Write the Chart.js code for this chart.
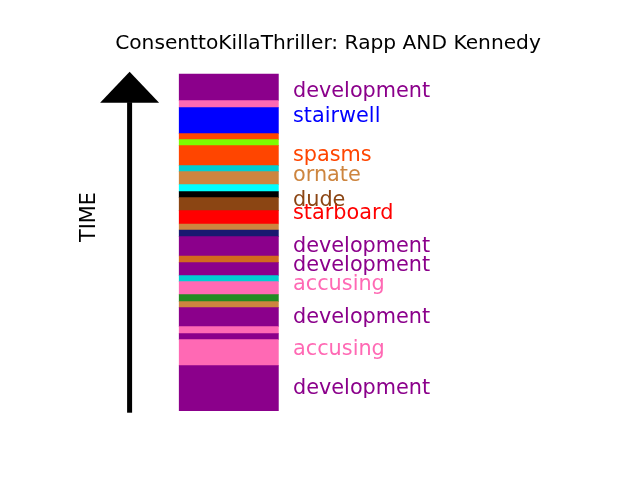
<!DOCTYPE html>
<html><head><meta charset="utf-8">
<script src="https://cdn.jsdelivr.net/npm/chart.js@4/dist/chart.umd.min.js"></script>
<style>html,body{margin:0;padding:0;background:#fff}</style>
</head><body>
<canvas id="c" width="640" height="480"></canvas>
<script>
const titleText = 'ConsenttoKillaThriller: Rapp AND Kennedy';
const axisLabel = 'TIME';
const categories = ['arrow', 'timeline', 'labels', '', ''];
// colour segments, bottom -> top, durations in time units
const segColors = ['#8B008B','#FF69B4','#8B008B','#FF69B4','#8B008B','#CD853F','#228B22','#FF69B4','#00CED1','#8B008B','#D2691E','#8B008B','#191970','#CD853F','#FF0000','#8B4513','#000000','#00FFFF','#CD853F','#00CED1','#FF4500','#7CFC00','#FF4500','#0000FF','#FF69B4','#8B008B'];
const segDurations = [45,26,6,7,19,6,7,13,6,13,6.7,19.3,6.7,6,13.3,13,6,7,13,6,20,6,6,26,7,26.7];
// labels, bottom -> top (baseline position in time units)
const labelWords = ['development','accusing','development','accusing','development','development','starboard','dude','ornate','spasms','stairwell','development'];
const labelColors = ['#8B008B','#FF69B4','#8B008B','#FF69B4','#8B008B','#8B008B','#FF0000','#8B4513','#CD853F','#FF4500','#0000FF','#8B008B'];
const labelTimes = [16.7,55.4,88,120.4,139.7,158.7,191.4,204.7,229.4,249.7,288.7,314];
// arrow: shaft start, head base, tip (time units)
const arrowTimes = [-2, 308, 339];
const axisLabelTime = 193.6;

const datasets = segColors.map((col, i) => ({
  data: [null, segDurations[i], null, null, null], backgroundColor: col, stack: 's', borderWidth: 0
}));

const decor = {
  id: 'decor',
  afterDraw(chart) {
    const ctx = chart.ctx, xs = chart.scales.x, ys = chart.scales.y, ca = chart.chartArea;
    const bar = chart.getDatasetMeta(0).data[1];
    ctx.save();
    // arrow
    const ax = xs.getPixelForValue(0);
    const y0 = ys.getPixelForValue(arrowTimes[0]);
    const y1 = ys.getPixelForValue(arrowTimes[1]);
    const y2 = ys.getPixelForValue(arrowTimes[2]);
    ctx.fillStyle = '#000';
    ctx.fillRect(ax - 2.5, y1 - 0.5, 5, y0 - y1 + 0.5);
    ctx.beginPath();
    ctx.moveTo(ax - 29.5, y1);
    ctx.lineTo(ax + 29.5, y1);
    ctx.lineTo(ax, y2);
    ctx.closePath();
    ctx.fill();
    // labels
    ctx.font = "20.8px 'DejaVu Sans'";
    ctx.textAlign = 'left';
    ctx.textBaseline = 'alphabetic';
    const lx = bar.x + bar.width / 2 + 14.6;
    labelWords.forEach((w, i) => {
      ctx.fillStyle = labelColors[i];
      ctx.fillText(w, lx, ys.getPixelForValue(labelTimes[i]));
    });
    // TIME
    ctx.save();
    ctx.translate(ax - 34.5, ys.getPixelForValue(axisLabelTime));
    ctx.rotate(-Math.PI / 2);
    ctx.fillStyle = '#000';
    ctx.textAlign = 'center';
    ctx.fillText(axisLabel, 0, 0);
    ctx.restore();
    // title
    ctx.font = "20.2px 'DejaVu Sans'";
    ctx.textAlign = 'center';
    ctx.fillStyle = '#000';
    ctx.fillText(titleText, (ca.left + ca.right) / 2, 49);
    ctx.restore();
  }
};

new Chart(document.getElementById('c'), {
  type: 'bar',
  data: {labels: categories, datasets},
  options: {
    responsive: false, animation: false, devicePixelRatio: 1,
    layout: {padding: {left: 80, right: 64, top: 58, bottom: 53}},
    barPercentage: 1, categoryPercentage: 1,
    scales: {
      x: {stacked: true, display: false, offset: true},
      y: {stacked: true, display: false, min: -16.3, max: 352.7}
    },
    plugins: {legend: {display: false}, tooltip: {enabled: false}, title: {display: false}}
  },
  plugins: [decor]
});
</script>
</body></html>
